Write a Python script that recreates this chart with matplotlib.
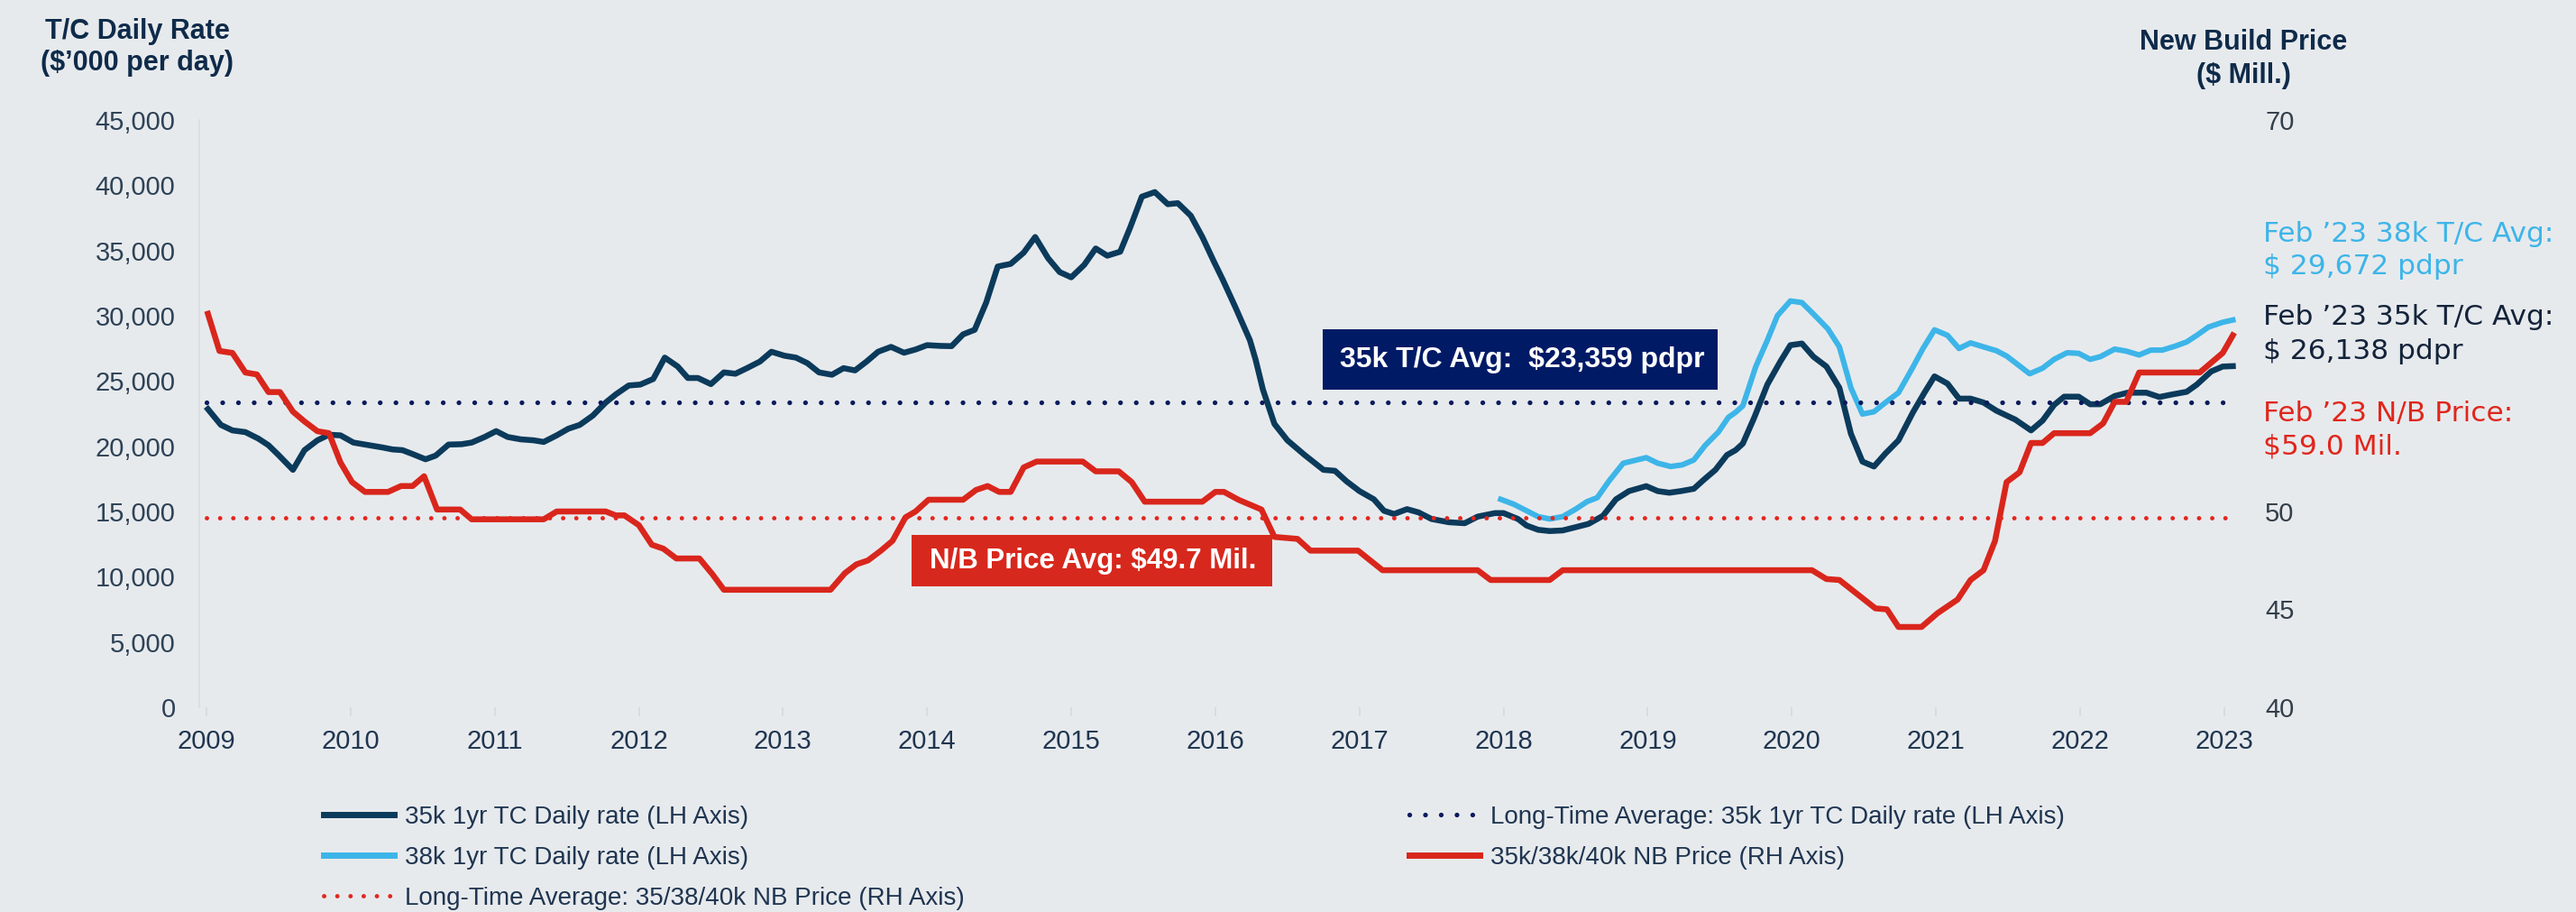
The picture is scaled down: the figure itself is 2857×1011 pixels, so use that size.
import matplotlib
matplotlib.use("Agg")
import matplotlib.pyplot as plt
from matplotlib.lines import Line2D
from matplotlib.patches import Rectangle
from matplotlib.ticker import FuncFormatter

# ---- data ----
tc35_years = [2009.01, 2009.10, 2009.18, 2009.27, 2009.36, 2009.43, 2009.50, 2009.60, 2009.68, 2009.77,
              2009.85, 2009.93, 2010.02, 2010.13, 2010.22, 2010.29, 2010.36, 2010.43, 2010.52, 2010.59,
              2010.68, 2010.77, 2010.84, 2010.93, 2011.01, 2011.09, 2011.18, 2011.27, 2011.34, 2011.43,
              2011.51, 2011.59, 2011.68, 2011.77, 2011.84, 2011.93, 2012.01, 2012.10, 2012.18, 2012.27,
              2012.34, 2012.41, 2012.50, 2012.59, 2012.67, 2012.75, 2012.84, 2012.92, 2013.01, 2013.09,
              2013.17, 2013.25, 2013.34, 2013.42, 2013.50, 2013.58, 2013.66, 2013.75, 2013.84, 2013.92,
              2014.00, 2014.09, 2014.17, 2014.25, 2014.33, 2014.41, 2014.49, 2014.58, 2014.67, 2014.75,
              2014.84, 2014.92, 2015.00, 2015.09, 2015.17, 2015.25, 2015.34, 2015.41, 2015.49, 2015.58,
              2015.67, 2015.74, 2015.83, 2015.91, 2015.99, 2016.05, 2016.14, 2016.24, 2016.28, 2016.33,
              2016.41, 2016.50, 2016.62, 2016.75, 2016.83, 2016.91, 2017.00, 2017.10, 2017.17, 2017.24,
              2017.33, 2017.41, 2017.50, 2017.62, 2017.73, 2017.82, 2017.94, 2018.00, 2018.10, 2018.16,
              2018.24, 2018.32, 2018.41, 2018.50, 2018.59, 2018.69, 2018.78, 2018.87, 2018.99, 2019.07,
              2019.15, 2019.23, 2019.32, 2019.39, 2019.47, 2019.55, 2019.61, 2019.66, 2019.74, 2019.83,
              2019.92, 2019.99, 2020.07, 2020.15, 2020.24, 2020.33, 2020.41, 2020.49, 2020.57, 2020.65,
              2020.74, 2020.84, 2020.92, 2020.99, 2021.08, 2021.16, 2021.24, 2021.33, 2021.42, 2021.55,
              2021.66, 2021.74, 2021.82, 2021.89, 2021.99, 2022.07, 2022.14, 2022.24, 2022.33, 2022.46,
              2022.55, 2022.64, 2022.74, 2022.81, 2022.91, 2022.99, 2023.06]
tc35_rate = [22845, 21635, 21213, 21082, 20584, 20079, 19326, 18192, 19699, 20453,
             20881, 20833, 20280, 20079, 19907, 19755, 19699, 19402, 19001, 19278,
             20128, 20155, 20280, 20708, 21158, 20708, 20529, 20453, 20328, 20833,
             21337, 21635, 22340, 23349, 23971, 24655, 24724, 25153, 26791, 26107,
             25229, 25229, 24760, 25657, 25554, 25982, 26487, 27240, 26936, 26791,
             26362, 25657, 25478, 25982, 25810, 26487, 27240, 27613, 27164, 27413,
             27745, 27689, 27669, 28574, 28920, 31007, 33772, 33972, 34830, 36032,
             34401, 33344, 32943, 33896, 35154, 34601, 34906, 36786, 39122, 39474,
             38548, 38624, 37663, 36032, 34152, 32800, 30634, 28118, 26611, 24351,
             21711, 20453, 19326, 18192, 18116, 17315, 16561, 15932, 15054, 14806,
             15179, 14930, 14425, 14177, 14100, 14605, 14875, 14875, 14425, 13921,
             13596, 13499, 13548, 13796, 14052, 14674, 15932, 16561, 16941, 16561,
             16437, 16561, 16741, 17439, 18192, 19326, 19700, 20204, 22215, 24724,
             26487, 27745, 27869, 26860, 26107, 24475, 20957, 18821, 18448, 19450,
             20453, 22588, 24102, 25353, 24800, 23646, 23646, 23349, 22720, 22042,
             21213, 21966, 23169, 23798, 23798, 23217, 23217, 23846, 24102, 24102,
             23770, 23971, 24171, 24724, 25733, 26107, 26138]

tc38_years = [2017.98, 2018.07, 2018.16, 2018.24, 2018.32, 2018.41, 2018.50, 2018.58, 2018.65, 2018.73,
              2018.83, 2018.99, 2019.07, 2019.16, 2019.24, 2019.32, 2019.40, 2019.49, 2019.56, 2019.61,
              2019.66, 2019.75, 2019.83, 2019.90, 2019.99, 2020.07, 2020.15, 2020.25, 2020.33, 2020.41,
              2020.49, 2020.57, 2020.65, 2020.74, 2020.83, 2020.91, 2020.99, 2021.08, 2021.16, 2021.24,
              2021.33, 2021.42, 2021.49, 2021.57, 2021.65, 2021.74, 2021.82, 2021.91, 2021.99, 2022.07,
              2022.14, 2022.24, 2022.32, 2022.41, 2022.49, 2022.57, 2022.66, 2022.74, 2022.81, 2022.89,
              2022.99, 2023.06]
tc38_rate = [15932, 15559, 15054, 14605, 14425, 14605, 15179, 15759, 16057, 17315,
             18697, 19126, 18697, 18448, 18573, 18946, 20079, 21082, 22215, 22600,
             23093, 26107, 28118, 30005, 31132, 31007, 30129, 28996, 27613, 24475,
             22464, 22644, 23349, 24102, 25858, 27489, 28920, 28498, 27489, 27918,
             27613, 27316, 26915, 26238, 25554, 25982, 26660, 27164, 27116, 26660,
             26860, 27441, 27289, 26992, 27365, 27365, 27669, 27994, 28498, 29127,
             29500, 29672]

nb_years = [2009.01, 2009.09, 2009.18, 2009.27, 2009.35, 2009.43, 2009.51, 2009.60, 2009.68, 2009.77,
            2009.85, 2009.93, 2010.01, 2010.10, 2010.26, 2010.35, 2010.43, 2010.51, 2010.60, 2010.76,
            2010.84, 2011.34, 2011.43, 2011.77, 2011.84, 2011.90, 2012.00, 2012.09, 2012.17, 2012.26,
            2012.42, 2012.51, 2012.59, 2013.33, 2013.43, 2013.51, 2013.59, 2013.68, 2013.76, 2013.85,
            2013.92, 2014.01, 2014.25, 2014.34, 2014.42, 2014.50, 2014.58, 2014.67, 2014.76, 2015.08,
            2015.17, 2015.33, 2015.42, 2015.51, 2015.91, 2016.00, 2016.06, 2016.16, 2016.32, 2016.41,
            2016.57, 2016.66, 2016.99, 2017.16, 2017.82, 2017.91, 2018.32, 2018.41, 2020.14, 2020.24,
            2020.33, 2020.58, 2020.66, 2020.74, 2020.90, 2021.01, 2021.15, 2021.24, 2021.33, 2021.41,
            2021.49, 2021.58, 2021.66, 2021.74, 2021.82, 2022.07, 2022.16, 2022.24, 2022.32, 2022.41,
            2022.83, 2022.91, 2022.99, 2023.06]
nb_price = [60.1, 58.2, 58.1, 57.1, 57.0, 56.1, 56.1, 55.1, 54.6, 54.1,
            54.0, 52.5, 51.5, 51.0, 51.0, 51.3, 51.3, 51.8, 50.1, 50.1,
            49.6, 49.6, 50.0, 50.0, 49.8, 49.8, 49.3, 48.3, 48.1, 47.6,
            47.6, 46.8, 46.0, 46.0, 46.85, 47.3, 47.5, 48.0, 48.5, 49.7,
            50.0, 50.6, 50.6, 51.1, 51.3, 51.0, 51.0, 52.25, 52.55, 52.55,
            52.05, 52.05, 51.5, 50.5, 50.5, 51.0, 51.0, 50.6, 50.1, 48.7,
            48.6, 48.0, 48.0, 47.0, 47.0, 46.5, 46.5, 47.0, 47.0, 46.55,
            46.5, 45.05, 45.0, 44.1, 44.1, 44.8, 45.5, 46.5, 47.0, 48.5,
            51.5, 52.0, 53.5, 53.5, 54.0, 54.0, 54.5, 55.6, 55.6, 57.1,
            57.1, 57.6, 58.1, 59.0]

avg_span = [2009.0, 2023.03]
tc35_long_avg = 23359
nb_long_avg = 49.7

year_ticks = list(range(2009, 2024))
left_ticks = list(range(0, 45001, 5000))
right_ticks = list(range(40, 71, 5))
right_hidden = [55, 60, 65]   # sit behind the Feb '23 notes in the original

# ---- style ----
W, H = 2857, 1011
BG = '#e7eaed'
NAVY = '#0b3a5b'
NAVY_DOT = '#0a1a5c'
LIGHT = '#3db5e8'
RED = '#d9261c'
TXT = '#1f3550'
TICK_C = '#2e4256'

plt.rcParams['font.family'] = ['Liberation Sans', 'DejaVu Sans']

fig = plt.figure(figsize=(W / 100, H / 100), dpi=100, facecolor=BG)
ax = fig.add_axes([221 / W, 1 - 784 / H, (2490 - 221) / W, (784 - 133) / H])
ax.set_facecolor(BG)
ax2 = ax.twinx()

dots = (0, (0.01, 3.3))

ax.plot(tc35_years, tc35_rate, color=NAVY, lw=4.7, solid_joinstyle='round', zorder=2)
ax.plot(tc38_years, tc38_rate, color=LIGHT, lw=4.4, solid_joinstyle='round', zorder=2)
ax.plot(avg_span, [tc35_long_avg] * 2, color=NAVY_DOT, lw=3.8, linestyle=dots,
        dash_capstyle='round', zorder=3)

ax2.plot(nb_years, nb_price, color=RED, lw=4.7, solid_joinstyle='round', zorder=2)
ax2.plot(avg_span, [nb_long_avg] * 2, color='#e2261e', lw=3.5, linestyle=(0, (0.01, 3.0)),
         dash_capstyle='round', zorder=3)

ax.set_xlim(2008.95, 2023.145)
ax.set_ylim(0, 45000)
ax2.set_ylim(40, 70)

ax.set_xticks(year_ticks)
ax.set_yticks(left_ticks)
ax2.set_yticks(right_ticks)
ax.yaxis.set_major_formatter(FuncFormatter(lambda v, p: f"{int(v):,}"))
ax2.yaxis.set_major_formatter(FuncFormatter(
    lambda v, p: "" if int(round(v)) in right_hidden else f"{int(round(v))}"))

ax.tick_params(axis='x', length=7, width=1.2, color='#d6dade', pad=10,
               labelsize=21, labelcolor=TXT)
ax.tick_params(axis='y', length=0, pad=19, labelsize=21, labelcolor=TICK_C)
ax2.tick_params(axis='y', length=0, pad=16, labelsize=21, labelcolor='#333f4a')

for s in ax.spines.values():
    s.set_visible(False)
for s in ax2.spines.values():
    s.set_visible(False)
ax.spines['left'].set_visible(True)
ax.spines['left'].set_color('#dadde1')
ax.spines['left'].set_linewidth(1.2)

# axis titles
fig.text(152 / W, 1 - 35 / H, "T/C Daily Rate", ha='center', va='center',
         fontsize=22, weight='bold', color='#0f2b4a')
fig.text(152 / W, 1 - 70 / H, "($’000 per day)", ha='center', va='center',
         fontsize=22, weight='bold', color='#0f2b4a')
fig.text(2488 / W, 1 - 47 / H, "New Build Price", ha='center', va='center',
         fontsize=22, weight='bold', color='#0f2b4a')
fig.text(2488 / W, 1 - 84 / H, "($ Mill.)", ha='center', va='center',
         fontsize=22, weight='bold', color='#0f2b4a')

# average boxes
fig.add_artist(Rectangle((1467 / W, 1 - 432 / H), 438 / W, 67 / H,
                         transform=fig.transFigure, facecolor='#001a66', edgecolor='none', zorder=4))
fig.text(1688 / W, 1 - 399 / H, "35k T/C Avg:  $23,359 pdpr", ha='center', va='center',
         fontsize=23, weight='bold', color='white', zorder=5)
fig.add_artist(Rectangle((1011 / W, 1 - 650 / H), 400 / W, 57 / H,
                         transform=fig.transFigure, facecolor='#d7281d', edgecolor='none', zorder=4))
fig.text(1212 / W, 1 - 622 / H, "N/B Price Avg: $49.7 Mil.", ha='center', va='center',
         fontsize=22.5, weight='bold', color='white', zorder=5)

# latest-value notes on the right
notes = [
    ("Feb ’23 38k T/C Avg:", 260, LIGHT),
    ("$ 29,672 pdpr", 296, LIGHT),
    ("Feb ’23 35k T/C Avg:", 352, '#13233a'),
    ("$ 26,138 pdpr", 389, '#13233a'),
    ("Feb ’23 N/B Price:", 458, '#e0261c'),
    ("$59.0 Mil.", 495, '#e0261c'),
]
for txt, y, c in notes:
    fig.text(2510 / W, 1 - y / H, txt, ha='left', va='center', fontsize=22.5,
             family='DejaVu Sans', color=c, zorder=5)

# legend
h35 = Line2D([], [], color=NAVY, lw=5, label="35k 1yr TC Daily rate (LH Axis)")
h38 = Line2D([], [], color=LIGHT, lw=5, label="38k 1yr TC Daily rate (LH Axis)")
hnb_avg = Line2D([], [], color='#e2261e', lw=3.5, linestyle=(0, (0.01, 3.0)), dash_capstyle='round',
                 label="Long-Time Average: 35/38/40k NB Price (RH Axis)")
h35_avg = Line2D([], [], color=NAVY_DOT, lw=3.8, linestyle=dots, dash_capstyle='round',
                 label="Long-Time Average: 35k 1yr TC Daily rate (LH Axis)")
hnb = Line2D([], [], color=RED, lw=5, label="35k/38k/40k NB Price (RH Axis)")

leg_kw = dict(loc='upper left', frameon=False, fontsize=20, handlelength=2.8,
              handletextpad=0.43, labelspacing=0.68, borderpad=0, borderaxespad=0,
              labelcolor=TXT)
fig.legend(handles=[h35, h38, hnb_avg], bbox_to_anchor=(359 / W, 1 - 893 / H), **leg_kw)
fig.legend(handles=[h35_avg, hnb], bbox_to_anchor=(1563 / W, 1 - 893 / H), **leg_kw)

fig.savefig("out.png", dpi=100, facecolor=BG)
